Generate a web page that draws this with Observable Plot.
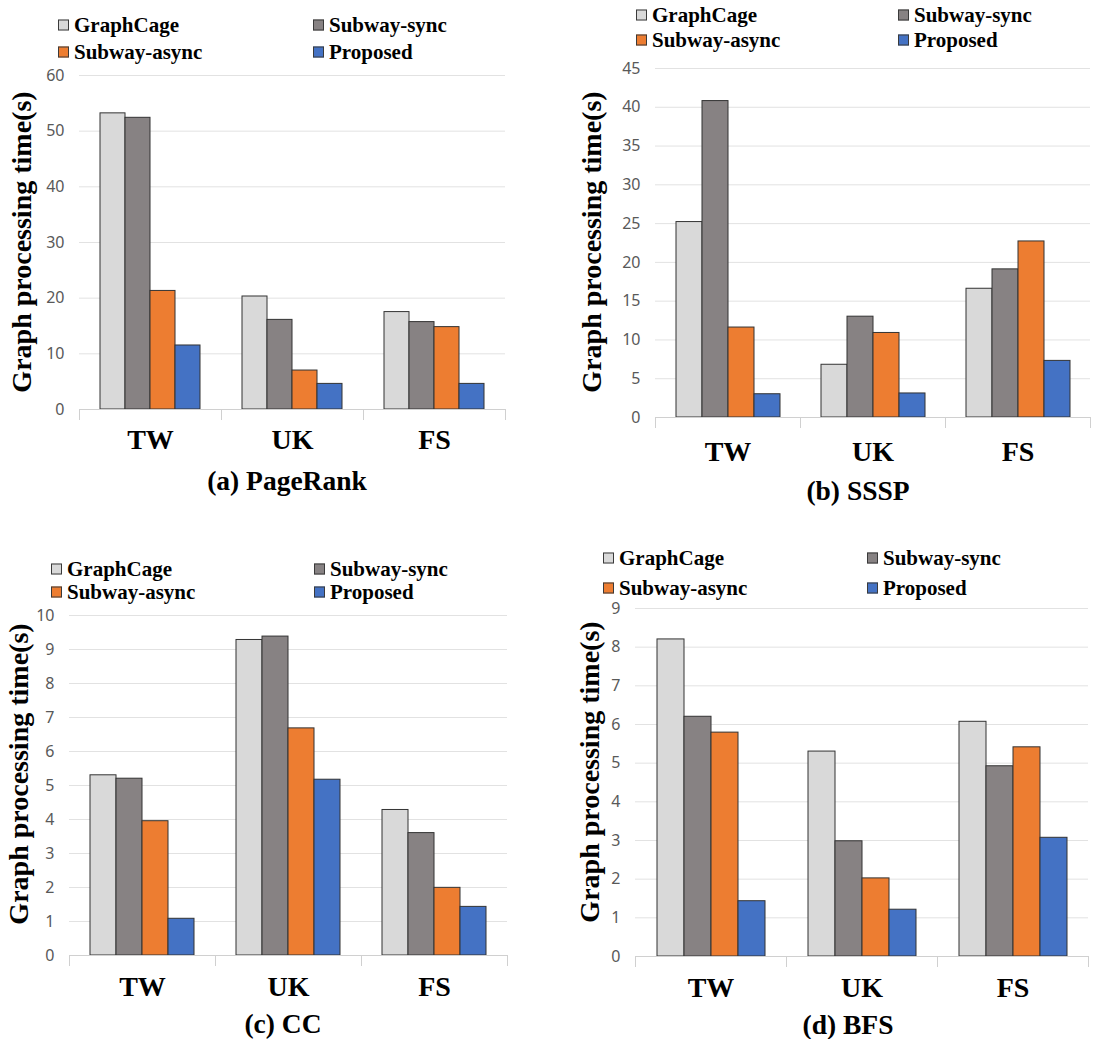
<!DOCTYPE html>
<html><head><meta charset="utf-8">
<script src="https://cdn.jsdelivr.net/npm/d3@7"></script>
<script src="https://cdn.jsdelivr.net/npm/@observablehq/plot@0.6"></script>
<style>
body{margin:0;background:#fff;}
#root{position:relative;width:1093px;height:1039px;overflow:hidden;background:#fff;}
.serif{font-family:"Liberation Serif","Times New Roman",serif;font-weight:bold;color:#000;}
.leg{position:absolute;display:flex;align-items:center;font-size:21px;line-height:1;white-space:nowrap;transform:translateY(-50%);}
.sw{width:11px;height:11px;border:1px solid #3a3a3a;margin-right:5px;box-sizing:border-box;flex:none;}
.ylab{position:absolute;white-space:nowrap;font-size:28px;line-height:1;transform:translate(-50%,-50%) rotate(-90deg);}
.title{position:absolute;white-space:nowrap;font-size:27.5px;line-height:1;transform:translate(-50%,-50%);}
.chart{position:absolute;}
.chart svg{overflow:visible;}
g[aria-label="fx-axis tick label"]{font-family:"Liberation Serif","Times New Roman",serif;font-weight:bold;font-size:28px;}
g[aria-label="y-axis tick label"]{font-family:"Noto Sans",sans-serif;font-size:16px;}
</style></head>
<body><div id="root"></div>
<script>
const categories = ["TW", "UK", "FS"];
const series = ["GraphCage", "Subway-sync", "Subway-async", "Proposed"];
const seriesColors = ["#d9d9d9", "#878283", "#ed7d31", "#4472c4"];

// values[category][series]
const pageRankValues = [[53.2, 52.4, 21.3, 11.5], [20.3, 16.1, 7.0, 4.6], [17.5, 15.7, 14.8, 4.6]];
const ssspValues = [[25.2, 40.8, 11.6, 3.0], [6.8, 13.0, 10.9, 3.1], [16.6, 19.1, 22.7, 7.3]];
const ccValues = [[5.3, 5.2, 3.95, 1.08], [9.28, 9.38, 6.68, 5.17], [4.28, 3.6, 1.99, 1.43]];
const bfsValues = [[8.2, 6.2, 5.79, 1.43], [5.3, 2.98, 2.02, 1.21], [6.07, 4.92, 5.41, 3.07]];

const pageRankTicks = [0, 10, 20, 30, 40, 50, 60];
const ssspTicks = [0, 5, 10, 15, 20, 25, 30, 35, 40, 45];
const ccTicks = [0, 1, 2, 3, 4, 5, 6, 7, 8, 9, 10];
const bfsTicks = [0, 1, 2, 3, 4, 5, 6, 7, 8, 9];

const yLabel = "Graph processing time(s)";
const panelTitles = ["(a) PageRank", "(b) SSSP", "(c) CC", "(d) BFS"];

// layout per panel
const layouts = [
  {values: pageRankValues, ticks: pageRankTicks, title: panelTitles[0],
   svg: {left: 0, top: 60, w: 520, h: 410, mt: 15, mr: 15, mb: 61, ml: 78, catPad: 20},
   legend: {x1: 58, x2: 313, y1: 25, y2: 52}, ylab: {x: 22, y: 242}, tpos: {x: 287, y: 481}},
  {values: ssspValues, ticks: ssspTicks, title: panelTitles[1],
   svg: {left: 560, top: 55, w: 533, h: 420, mt: 13, mr: 3, mb: 58, ml: 95, catPad: 24},
   legend: {x1: 636, x2: 898, y1: 15, y2: 40}, ylab: {x: 592, y: 242}, tpos: {x: 858, y: 491}},
  {values: ccValues, ticks: ccTicks, title: panelTitles[2],
   svg: {left: 0, top: 600, w: 530, h: 410, mt: 15, mr: 23, mb: 55, ml: 68, catPad: 21},
   legend: {x1: 51, x2: 314, y1: 569, y2: 592}, ylab: {x: 19, y: 774}, tpos: {x: 283, y: 1024}},
  {values: bfsValues, ticks: bfsTicks, title: panelTitles[3],
   svg: {left: 560, top: 595, w: 533, h: 415, mt: 13, mr: 5, mb: 54, ml: 74, catPad: 21},
   legend: {x1: 603, x2: 867, y1: 558, y2: 588}, ylab: {x: 590, y: 772}, tpos: {x: 848, y: 1025}}
];

const root = document.getElementById("root");

function el(cls, text, style) {
  const d = document.createElement("div");
  d.className = cls;
  if (text != null) d.textContent = text;
  Object.assign(d.style, style || {});
  root.appendChild(d);
  return d;
}

function legend(L) {
  const pos = [[L.x1, L.y1], [L.x2, L.y1], [L.x1, L.y2], [L.x2, L.y2]];
  series.forEach((s, i) => {
    const item = el("leg serif", null, {left: pos[i][0] + "px", top: pos[i][1] + "px"});
    const sw = document.createElement("div");
    sw.className = "sw";
    sw.style.background = seriesColors[i];
    item.appendChild(sw);
    const t = document.createElement("span");
    t.textContent = s;
    item.appendChild(t);
  });
}

for (const P of layouts) {
  const S = P.svg;
  const rows = [];
  categories.forEach((c, i) => series.forEach((s, j) => rows.push({category: c, series: s, value: P.values[i][j]})));
  const plotH = S.h - S.mt - S.mb;
  const chart = Plot.plot({
    width: S.w, height: S.h,
    marginTop: S.mt, marginRight: S.mr, marginBottom: S.mb, marginLeft: S.ml,
    style: {background: "transparent", overflow: "visible"},
    fx: {domain: categories, padding: 0, axis: null, label: null},
    x: {domain: series, paddingInner: 0, paddingOuter: 0.76, axis: null},
    y: {domain: [P.ticks[0], P.ticks[P.ticks.length - 1]], axis: null},
    color: {domain: series, range: seriesColors},
    marks: [
      Plot.gridY(P.ticks, {stroke: "#e2e2e2", strokeOpacity: 1}),
      Plot.barY(rows, {fx: "category", x: "series", y: "value", fill: "series", stroke: "#333", strokeWidth: 1}),
      Plot.ruleY([0], {stroke: "#d0d0d0"}),
      Plot.frame({anchor: "left", stroke: "#d0d0d0", insetTop: plotH, insetBottom: -10}),
      Plot.frame({anchor: "right", stroke: "#d0d0d0", insetTop: plotH, insetBottom: -10}),
      Plot.axisY(P.ticks, {tickSize: 0, tickPadding: 15, label: null, fontSize: 16, fill: "#595959", fontFamily: "Noto Sans"}),
      Plot.axisFx({anchor: "bottom", tickSize: 0, tickPadding: S.catPad, label: null, fontSize: 28, fontWeight: "bold", fontFamily: "Liberation Serif", fill: "#000"})
    ]
  });
  const wrap = el("chart", null, {left: S.left + "px", top: S.top + "px"});
  wrap.appendChild(chart);
  legend(P.legend);
  el("ylab serif", yLabel, {left: P.ylab.x + "px", top: P.ylab.y + "px"});
  el("title serif", P.title, {left: P.tpos.x + "px", top: P.tpos.y + "px"});
}
</script>
</body></html>
